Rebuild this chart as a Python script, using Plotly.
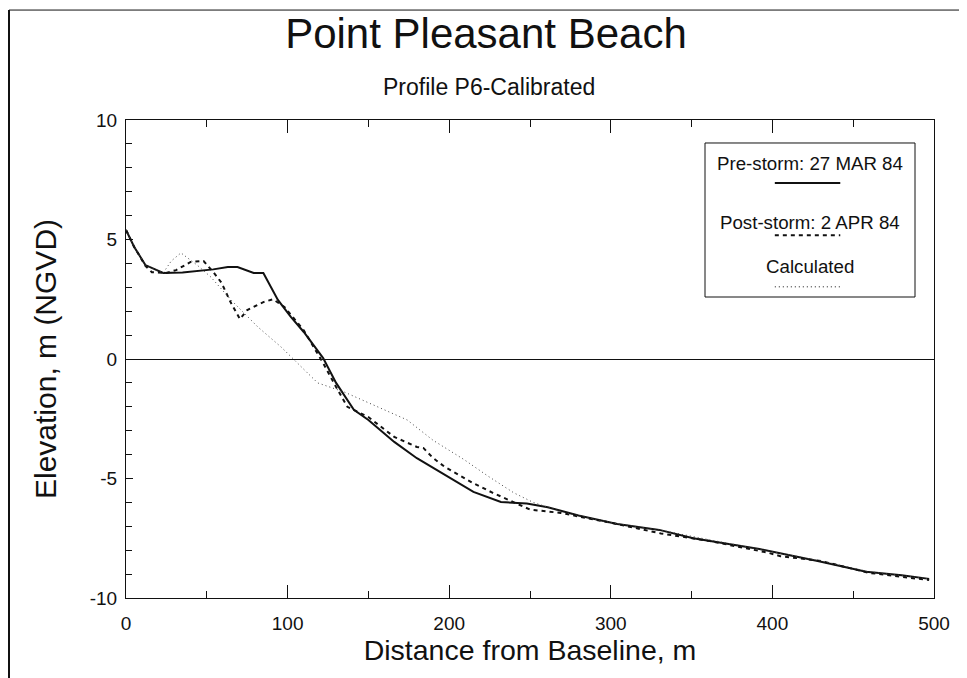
import plotly.graph_objects as go

# Perfil de playa, distancia (m) y cota (m NGVD)
pre_x = [0, 5, 12, 23, 35, 54, 63, 69, 79, 85, 94, 102, 110, 122, 130, 141, 150, 166,
         180, 195, 215, 232, 248, 261, 280, 304, 330, 351, 375, 392, 410, 428, 458, 480, 497]
pre_y = [5.4, 4.7, 3.93, 3.6, 3.62, 3.75, 3.85, 3.85, 3.6, 3.6, 2.47, 1.76, 1.13, 0.04, -1.0, -2.13,
         -2.55, -3.47, -4.15, -4.77, -5.56, -5.98, -6.05, -6.2, -6.55, -6.9, -7.15, -7.5, -7.75,
         -7.95, -8.2, -8.45, -8.9, -9.05, -9.2]

post_x = [0, 5, 12, 16, 25, 31, 40, 48, 54, 59, 65, 70.5, 75, 85, 91, 98, 110, 122, 130, 137,
          150, 166, 180, 184, 190, 197, 215, 227, 250, 269, 281, 300, 331, 360, 397, 405, 430, 460, 497]
post_y = [5.4, 4.7, 3.9, 3.63, 3.6, 3.72, 4.06, 4.1, 3.64, 3.2, 2.34, 1.67, 2.05, 2.38, 2.5, 2.18,
          1.2, -0.17, -1.17, -2.0, -2.43, -3.26, -3.68, -3.72, -4.14, -4.5, -5.2, -5.6, -6.3, -6.44,
          -6.6, -6.85, -7.3, -7.6, -8.1, -8.25, -8.45, -8.95, -9.25]

calc_x = [0, 5, 12, 23, 28, 34, 44, 52.5, 65, 81.6, 96, 106, 118.6, 135, 155.7, 174, 190, 209,
          224, 240, 252, 270, 300, 330, 360, 392, 430, 460, 497]
calc_y = [5.4, 4.7, 3.93, 3.6, 4.1, 4.44, 3.93, 3.43, 2.47, 1.34, 0.5, -0.17, -1.0, -1.38, -2.0,
          -2.55, -3.4, -4.2, -4.9, -5.6, -6.0, -6.4, -6.85, -7.15, -7.55, -7.95, -8.45, -8.9, -9.2]

y_tick_vals = [-10, -5, 0, 5, 10]
y_tick_labels = ["-10", "-5", "0", "5", "10"]

legend_labels = ["Pre-storm: 27 MAR 84", "Post-storm: 2 APR 84", "Calculated"]

FONT = "Liberation Sans"
INK = "#111111"


def printGraphic():
    fig = go.Figure()
    fig.add_trace(go.Scatter(x=pre_x, y=pre_y, mode="lines", line=dict(color=INK, width=2)))
    fig.add_trace(go.Scatter(x=post_x, y=post_y, mode="lines",
                             line=dict(color=INK, width=2, dash="4px,4px")))
    fig.add_trace(go.Scatter(x=calc_x, y=calc_y, mode="lines",
                             line=dict(color="#444444", width=1, dash="1px,3px")))

    # la página html tiene 8px de margen en el body, se descuentan aquí
    fig.update_layout(
        width=959, height=670, showlegend=False,
        paper_bgcolor="white", plot_bgcolor="white",
        margin=dict(l=118, r=33, t=112, b=80),
        font=dict(family=FONT, color=INK),
        title=dict(text="Point Pleasant Beach", font=dict(size=42, color=INK),
                   xref="container", x=0.4984, xanchor="center",
                   yref="container", y=1 - 25 / 670, yanchor="middle"),
    )

    fig.update_xaxes(range=[0, 500], dtick=100, tick0=0, showgrid=False, zeroline=False,
                     showline=True, linecolor=INK, linewidth=1, mirror="ticks",
                     ticks="inside", ticklen=13, tickcolor=INK,
                     minor=dict(dtick=50, ticks="inside", ticklen=7, tickcolor=INK),
                     tickfont=dict(size=19), ticklabelstandoff=8,
                     title=dict(text="Distance from Baseline, m", font=dict(size=28.5), standoff=0))
    fig.update_yaxes(range=[-10, 10], tickvals=y_tick_vals, ticktext=y_tick_labels,
                     showgrid=False,
                     zeroline=True, zerolinecolor=INK, zerolinewidth=1,
                     showline=True, linecolor=INK, linewidth=1, mirror=True,
                     ticks="inside", ticklen=7, tickcolor=INK,
                     minor=dict(dtick=1, ticks="inside", ticklen=6, tickcolor=INK),
                     tickfont=dict(size=19), ticklabelstandoff=4,
                     title=dict(text="Elevation, m (NGVD)", font=dict(size=30), standoff=24))

    # Subtítulo
    fig.add_annotation(text="Profile P6-Calibrated", xref="paper", yref="paper",
                       x=0.449, y=1.069, showarrow=False, font=dict(size=23),
                       xanchor="center", yanchor="middle")

    # Leyenda dibujada a mano (texto encima de la muestra de línea)
    fig.add_shape(type="rect", xref="paper", yref="paper", x0=0.7166, x1=0.9765,
                  y0=0.6297, y1=0.9519, line=dict(color=INK, width=1), fillcolor="white")
    text_y = [0.910, 0.7866, 0.6925]
    sample_y = [0.868, 0.759, 0.651]
    sample_dash = ["solid", "4px,4px", "1px,3px"]
    sample_w = [2, 2, 1]
    for lab, ty, sy, d, w in zip(legend_labels, text_y, sample_y, sample_dash, sample_w):
        fig.add_annotation(text=lab, xref="paper", yref="paper", x=0.8465, y=ty,
                           showarrow=False, font=dict(size=18.7), xanchor="center", yanchor="middle")
        fig.add_shape(type="line", xref="paper", yref="paper", x0=0.803, x1=0.884, y0=sy, y1=sy,
                      line=dict(color=INK, width=w, dash=d))

    # Marco de la página escaneada
    fig.add_shape(type="line", xref="paper", yref="paper", x0=-0.1448, x1=-0.1448,
                  y0=-0.2, y1=1.23, line=dict(color=INK, width=2))
    fig.add_shape(type="line", xref="paper", yref="paper", x0=-0.1448, x1=1.06,
                  y0=1.23, y1=1.23, line=dict(color=INK, width=1))

    fig.write_html("out.html")


if __name__ == '__main__':
    printGraphic()
